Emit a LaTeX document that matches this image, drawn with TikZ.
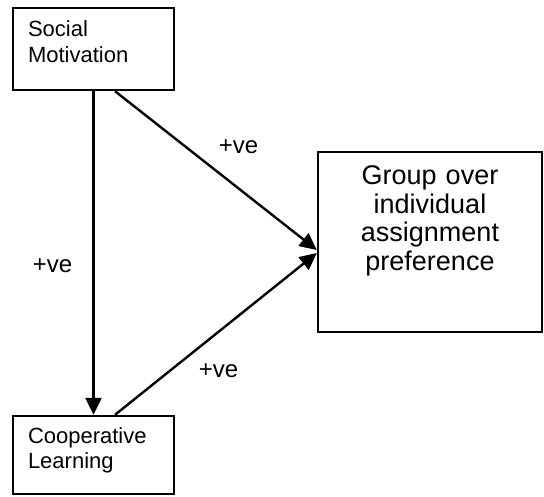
\documentclass[tikz,border=0pt]{standalone}
\usepackage{fontspec}
\setmainfont{Liberation Sans}
\usetikzlibrary{arrows.meta}
\tikzset{
  varbox/.style={draw=black,line width=2.4pt,inner ysep=0pt,
    text width=131pt,inner xsep=15pt,align=left,
    font=\fontsize{22}{25.5}\selectfont},
  outbox/.style={draw=black,line width=2.4pt,inner ysep=0pt,
    text width=204pt,inner xsep=10pt,align=center,
    font=\fontsize{27}{28.5}\selectfont},
  arrow/.style={-{Triangle[length=17pt,width=16pt]},line width=2.4pt,draw=black},
  signlabel/.style={font=\fontsize{24}{26}\selectfont,anchor=base}
}

\begin{document}
\begin{tikzpicture}[x=1pt,y=1pt]
  \useasboundingbox (0,0) rectangle (544,496);

  \node[varbox, text height=29pt, text depth=53pt] (social) at (93.5,447)
    {Social\\Motivation};
  \node[varbox, text height=27pt, text depth=51pt] (coop) at (93.5,41)
    {Cooperative\\Learning};
  \node[outbox, text height=33pt, text depth=147pt] (group) at (430,254)
    {Group over\\individual\\assignment\\preference};

  \draw[arrow] (social.south) -- (coop.north);
  \draw[arrow] ([xshift=21.5pt]social.south) -- ([yshift=-8pt]group.west);
  \draw[arrow] ([xshift=21.5pt]coop.north) -- ([yshift=-11pt]group.west);

  \node[signlabel] (sign1) at (238.5,342) {+ve};
  \node[signlabel] (sign2) at (52.5,223) {+ve};
  \node[signlabel] (sign3) at (218.5,118) {+ve};
\end{tikzpicture}
\end{document}
